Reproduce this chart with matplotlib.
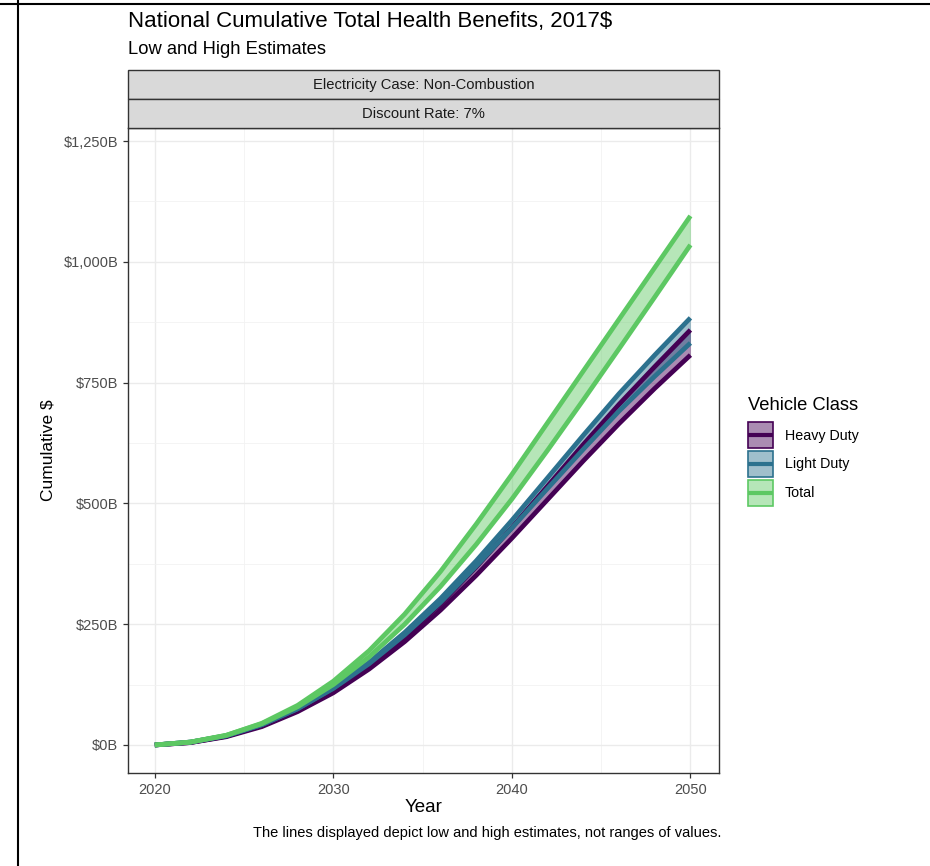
import matplotlib
matplotlib.use("Agg")
import matplotlib.pyplot as plt
from matplotlib.patches import Patch, Rectangle
from matplotlib.lines import Line2D
from matplotlib.legend_handler import HandlerBase
from matplotlib.ticker import FuncFormatter, MultipleLocator

plt.rcParams['font.family'] = ['Liberation Sans', 'DejaVu Sans']

years = [2020, 2022, 2024, 2026, 2028, 2030, 2032, 2034, 2036, 2038, 2040, 2042, 2044, 2046, 2048, 2050]

heavy_low = [0, 5, 17, 38, 69, 108, 157, 214, 279, 351, 428, 508, 588, 665, 738, 807]
heavy_high = [0, 5, 18, 40, 72, 113, 164, 224, 292, 368, 450, 536, 622, 705, 783, 859]
light_low = [0, 6, 19, 42, 75, 117, 168, 228, 295, 370, 449, 531, 612, 691, 763, 832]
light_high = [0, 6, 19, 42, 75, 118, 171, 233, 303, 381, 465, 553, 641, 727, 807, 884]
total_low = [0, 6, 20, 44, 79, 125, 182, 250, 328, 415, 509, 610, 714, 820, 927, 1035]
total_high = [0, 6, 20, 45, 82, 132, 195, 271, 359, 457, 560, 667, 774, 881, 988, 1095]

classes = ["Heavy Duty", "Light Duty", "Total"]
colors = ["#440154", "#2C718E", "#5DC863"]
series = {
    "Heavy Duty": (heavy_low, heavy_high),
    "Light Duty": (light_low, light_high),
    "Total": (total_low, total_high),
}

fig = plt.figure(figsize=(9.3, 8.66), dpi=100)
W, H = 930, 866
L, R, T, B = 128, 719, 128, 773
ax = fig.add_axes([L / W, 1 - B / H, (R - L) / W, (B - T) / H])

for name, col in zip(classes, colors):
    lo, hi = series[name]
    ax.fill_between(years, lo, hi, color=col, alpha=0.45, lw=0, zorder=2)
    ax.plot(years, lo, color=col, lw=3.4, solid_capstyle='butt', solid_joinstyle='round', zorder=3)
    ax.plot(years, hi, color=col, lw=3.4, solid_capstyle='butt', solid_joinstyle='round', zorder=3)

ax.set_xlim(2018.5, 2051.6)
ax.set_ylim(-58, 1277)
ax.xaxis.set_major_locator(MultipleLocator(10))
ax.xaxis.set_minor_locator(MultipleLocator(5))
ax.yaxis.set_major_locator(MultipleLocator(250))
ax.yaxis.set_minor_locator(MultipleLocator(125))
ax.yaxis.set_major_formatter(FuncFormatter(lambda v, p: "${:,.0f}B".format(v)))
ax.grid(which='major', color='#EBEBEB', lw=1.0, zorder=0)
ax.grid(which='minor', color='#F2F2F2', lw=0.6, zorder=0)
ax.set_axisbelow(True)
for s in ax.spines.values():
    s.set_color('#333333')
    s.set_linewidth(1.0)
ax.tick_params(which='major', length=3.5, width=0.9, color='#333333', labelcolor='#4D4D4D', labelsize=10.5)
ax.tick_params(which='minor', length=0)
ax.set_xlabel("Year", fontsize=13.5, color='black', labelpad=2)
ax.set_ylabel("Cumulative $", fontsize=12.5, color='black', labelpad=6)

# facet strips
for (y0, y1, txt) in [(70, 99, "Electricity Case: Non-Combustion"), (99, 128, "Discount Rate: 7%")]:
    fig.patches.append(Rectangle((L / W, 1 - y1 / H), (R - L) / W, (y1 - y0) / H,
                                 transform=fig.transFigure, facecolor='#D9D9D9',
                                 edgecolor='#333333', lw=1.0, zorder=1))
    fig.text((L + R) / 2 / W, 1 - (y0 + y1) / 2 / H, txt, ha='center', va='center',
             fontsize=10.6, color='#1A1A1A')

fig.text(L / W, 1 - 22 / H, "National Cumulative Total Health Benefits, 2017$",
         fontsize=16, ha='left', va='center')
fig.text(L / W, 1 - 50 / H, "Low and High Estimates", fontsize=13.2, ha='left', va='center')
fig.text(487 / W, 1 - 833 / H, "The lines displayed depict low and high estimates, not ranges of values.",
         fontsize=10.5, ha='center', va='center')


class KeyHandler(HandlerBase):
    def create_artists(self, legend, orig_handle, xdescent, ydescent, width, height, fontsize, trans):
        col = orig_handle.get_edgecolor()
        rect = Rectangle((-xdescent, -ydescent), width, height, facecolor=col[:3] + (0.45,),
                         edgecolor=col, lw=1.2, transform=trans)
        ymid = -ydescent + height / 2
        line = Line2D([-xdescent, -xdescent + width], [ymid, ymid], color=col, lw=3.0,
                      solid_capstyle='butt', transform=trans)
        return [rect, line]


handles = [Patch(facecolor=c, edgecolor=c) for c in colors]
fig.text(748 / W, 1 - 405 / H, "Vehicle Class", fontsize=13.2, ha='left', va='center')
leg = fig.legend(handles, classes, loc='upper left', bbox_to_anchor=(741 / W, 1 - 415 / H),
                 frameon=False, fontsize=10.3, borderpad=0,
                 handlelength=1.72, handleheight=2.42, labelspacing=0.2, handletextpad=0.85,
                 handler_map={Patch: KeyHandler()})

# document borders
fig.add_artist(Line2D([0, 1], [1 - 4 / H, 1 - 4 / H], transform=fig.transFigure, color='black', lw=1.5))
fig.add_artist(Line2D([18 / W, 18 / W], [0, 1], transform=fig.transFigure, color='black', lw=1.5))

fig.savefig("out.png", dpi=100)
